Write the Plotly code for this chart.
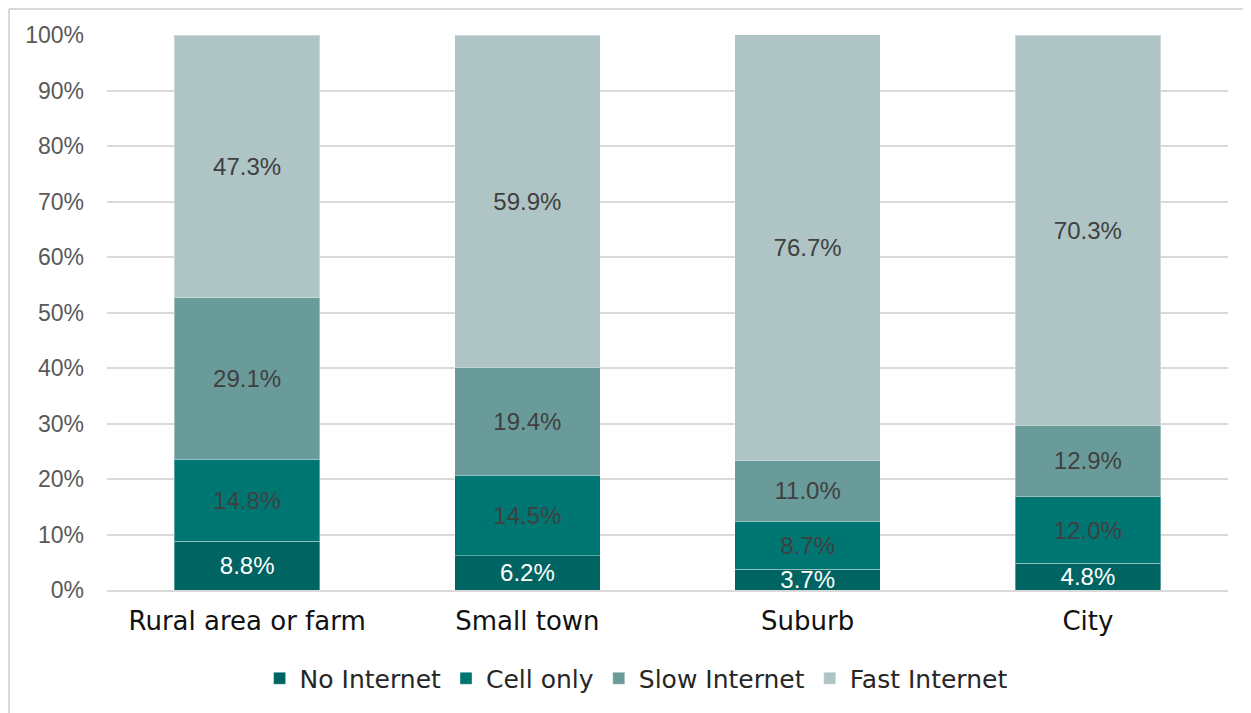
import plotly.graph_objects as go

categories = ["Rural area or farm", "Small town", "Suburb", "City"]
no_internet = [8.8, 6.2, 3.7, 4.8]
cell_only = [14.8, 14.5, 8.7, 12.0]
slow_internet = [29.1, 19.4, 11.0, 12.9]
fast_internet = [47.3, 59.9, 76.7, 70.3]
y_ticks = [0, 10, 20, 30, 40, 50, 60, 70, 80, 90, 100]

series = [
    ("No Internet", no_internet, "#006462", "white"),
    ("Cell only", cell_only, "#007673", "#404040"),
    ("Slow Internet", slow_internet, "#6a9b9b", "#404040"),
    ("Fast Internet", fast_internet, "#afc4c5", "#404040"),
]

fig = go.Figure()
for name, vals, color, tcolor in series:
    fig.add_trace(go.Bar(
        x=categories, y=vals, name=name,
        marker=dict(color=color, line=dict(color="rgba(255,255,255,0.35)", width=1)),
        text=[f"{v:.1f}%" for v in vals],
        textposition="inside", insidetextanchor="middle",
        constraintext="none",
        textfont=dict(family="Liberation Sans, Arial", size=24, color=tcolor),
        hoverinfo="skip",
    ))

W, H = 1251, 713
# page body adds an 8px offset; margins are in figure coordinates
L, R, T, B = 99, 31, 27, 131
pw, ph = W - L - R, H - T - B

fig.update_layout(
    barmode="stack",
    bargap=0.48,
    width=W, height=H,
    margin=dict(l=L, r=R, t=T, b=B, autoexpand=False),
    paper_bgcolor="white", plot_bgcolor="white",
    showlegend=True,
    legend=dict(orientation="h", x=0.472, xanchor="center", y=-0.118, yanchor="top",
                font=dict(family="DejaVu Sans", size=25, color="#262626"),
                traceorder="normal", itemwidth=30, tracegroupgap=0),
    xaxis=dict(tickfont=dict(family="DejaVu Sans", size=26, color="#111111"),
               showgrid=False, ticks="", showline=True, linecolor="#d9d9d9", linewidth=2,
               ticklabelstandoff=7, automargin=False),
    yaxis=dict(range=[0, 100], tickvals=y_ticks, ticktext=[f"{t}%" for t in y_ticks],
               tickfont=dict(family="Liberation Sans, Arial", size=23, color="#595959"),
               showgrid=True, gridcolor="#d9d9d9", gridwidth=2, zeroline=False,
               ticks="", ticklabelstandoff=22, automargin=False),
)

# outer chart border: top and left edges (paper coordinates of the plot area)
fig.add_shape(type="line", xref="paper", yref="paper",
              x0=(1 - L) / pw, x1=(W + 5 - L) / pw,
              y0=(H - B - 1) / ph, y1=(H - B - 1) / ph,
              line=dict(color="#d9d9d9", width=2))
fig.add_shape(type="line", xref="paper", yref="paper",
              x0=(1 - L) / pw, x1=(1 - L) / pw,
              y0=(H - B - 1) / ph, y1=-(B + 5) / ph,
              line=dict(color="#d9d9d9", width=2))

fig.write_html("out.html")
